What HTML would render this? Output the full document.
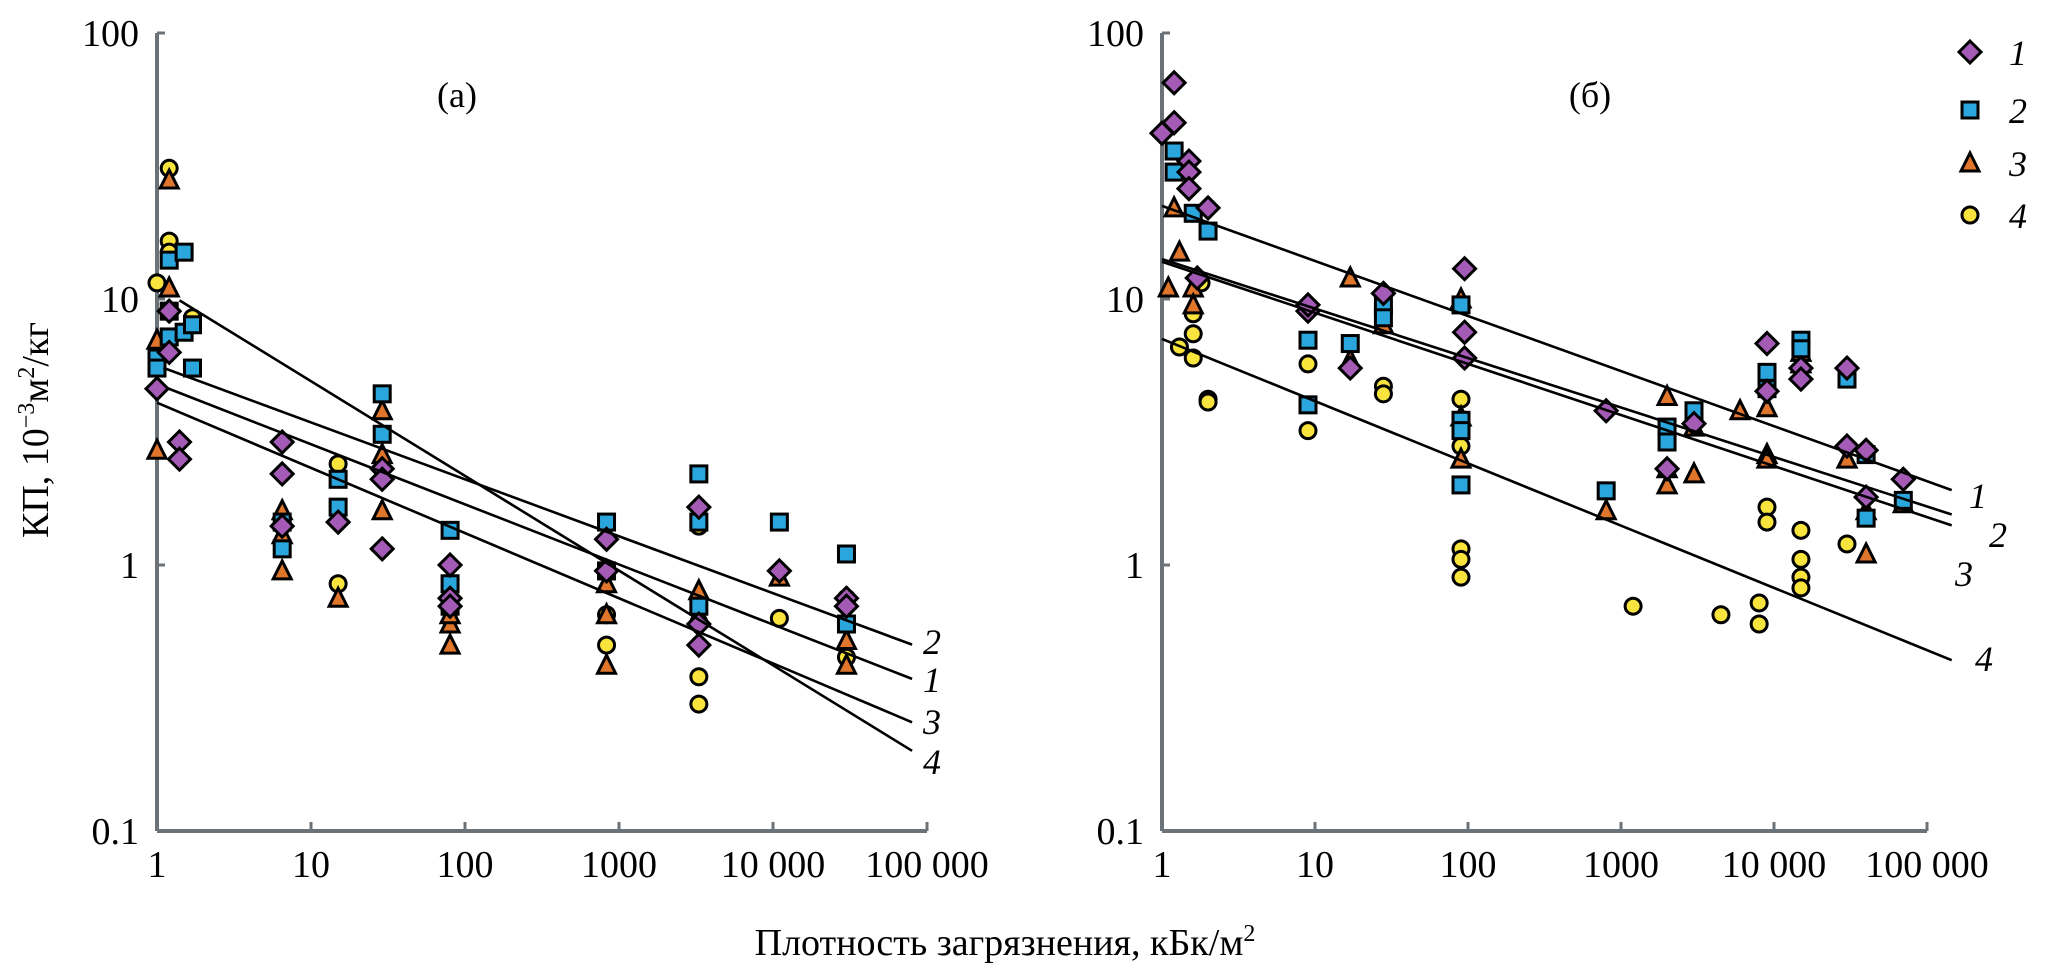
<!DOCTYPE html>
<html><head><meta charset="utf-8">
<style>
html,body{margin:0;padding:0;background:#fff;}
svg{display:block;font-family:"Liberation Serif","Times New Roman",serif;}
svg text{font-family:"Liberation Serif","Times New Roman",serif;fill:#000;}
</style></head>
<body>
<svg id="chart" width="2046" height="968" viewBox="0 0 2046 968" xmlns="http://www.w3.org/2000/svg" font-family="Liberation Serif, serif">
<text transform="translate(48,430) rotate(-90)" text-anchor="middle" font-size="38">КП,  10<tspan font-size="24" dy="-14">−3</tspan><tspan dy="14">м</tspan><tspan font-size="24" dy="-14">2</tspan><tspan dy="14">/кг</tspan></text>
<text x="1005" y="955" text-anchor="middle" font-size="38">Плотность загрязнения, кБк/м<tspan font-size="24" dy="-14">2</tspan></text>
<text x="457" y="107" text-anchor="middle" font-size="36">(а)</text>
<text x="1590" y="107" text-anchor="middle" font-size="36">(б)</text>
</svg>
<script>
// ---- data ----
const yTickValues = [100, 10, 1, 0.1];
const yTickLabels = ["100", "10", "1", "0.1"];
const xTickValues = [1, 10, 100, 1000, 10000, 100000];
const xTickLabels = ["1", "10", "100", "1000", "10 000", "100 000"];
const seriesNames = ["1", "2", "3", "4"];

const aS1x = [1, 1.2, 1.2, 1.4, 1.4, 6.5, 6.5, 6.5, 15, 29, 29, 29, 80, 80, 80, 830, 830, 3300, 3300, 3300, 11000, 30000, 30000];
const aS1y = [4.6, 9, 6.3, 2.9, 2.5, 2.9, 2.2, 1.4, 1.45, 2.3, 2.1, 1.15, 1.0, 0.75, 0.7, 1.25, 0.95, 1.65, 0.5, 0.6, 0.95, 0.75, 0.7];
const aS2x = [1, 1, 1.2, 1.2, 1.2, 1.5, 1.5, 1.7, 1.7, 6.5, 6.5, 15, 15, 29, 29, 80, 80, 80, 830, 830, 3300, 3300, 3300, 11000, 30000, 30000];
const aS2y = [6, 5.5, 14, 9, 7.2, 15, 7.5, 8, 5.5, 1.15, 1.45, 1.65, 2.1, 4.4, 3.1, 1.35, 0.85, 0.7, 1.45, 0.95, 2.2, 1.45, 0.7, 1.45, 1.1, 0.6];
const aS3x = [1, 1, 1.2, 1.2, 6.5, 6.5, 6.5, 15, 29, 29, 29, 80, 80, 80, 830, 830, 830, 3300, 3300, 11000, 30000, 30000];
const aS3y = [2.7, 7, 28, 11, 1.6, 1.3, 0.95, 0.75, 3.8, 2.6, 1.6, 0.5, 0.6, 0.65, 0.85, 0.65, 0.42, 0.8, 0.65, 0.9, 0.52, 0.42];
const aS4x = [1, 1.2, 1.2, 1.2, 1.7, 15, 15, 830, 830, 3300, 3300, 3300, 11000, 30000, 30000];
const aS4y = [11.5, 31, 16.5, 15, 8.5, 2.4, 0.85, 0.65, 0.5, 1.4, 0.38, 0.3, 0.63, 0.75, 0.45];

const bS1x = [1, 1.2, 1.2, 1.5, 1.5, 1.5, 2, 1.7, 9, 9, 17, 28, 95, 95, 95, 800, 2000, 3000, 9000, 9000, 15000, 15000, 30000, 30000, 40000, 40000, 70000];
const bS1y = [42, 65, 46, 33, 30, 26, 22, 12, 9, 9.5, 5.5, 10.5, 13, 7.5, 6, 3.8, 2.3, 3.4, 6.8, 4.5, 5.5, 5, 5.5, 2.8, 2.7, 1.8, 2.1];
const bS2x = [1.2, 1.2, 1.6, 2, 9, 9, 17, 28, 28, 90, 90, 90, 90, 800, 2000, 2000, 3000, 9000, 9000, 15000, 15000, 30000, 40000, 40000, 70000];
const bS2y = [36, 30, 21, 18, 7, 4, 6.8, 9.5, 8.5, 9.5, 3.5, 3.2, 2, 1.9, 3.3, 2.9, 3.8, 5.3, 4.6, 7, 6.5, 5, 1.5, 2.6, 1.75];
const bS3x = [1.1, 1.2, 1.3, 1.6, 1.6, 17, 17, 28, 90, 90, 90, 800, 2000, 2000, 2000, 3000, 3000, 6000, 9000, 9000, 9000, 15000, 15000, 30000, 40000, 40000, 70000];
const bS3y = [11, 22, 15, 11, 9.5, 12, 5.9, 8, 10, 3.6, 2.5, 1.6, 4.3, 2.3, 2, 3.3, 2.2, 3.8, 3.9, 2.6, 2.5, 6.3, 5.7, 2.5, 1.1, 1.6, 1.7];
const bS4x = [1.3, 1.6, 1.6, 1.6, 1.8, 2, 2, 9, 9, 28, 28, 90, 90, 90, 90, 90, 90, 1200, 4500, 8000, 8000, 9000, 9000, 15000, 15000, 15000, 15000, 30000];
const bS4y = [6.6, 8.8, 7.4, 6, 11.5, 4.2, 4.1, 5.7, 3.2, 4.7, 4.4, 4.2, 3.2, 2.8, 1.15, 1.05, 0.9, 0.7, 0.65, 0.72, 0.6, 1.65, 1.45, 1.35, 1.05, 0.9, 0.82, 1.2];

// regression lines: log10(y) = a + b*log10(x), from x0 to x1
const aLineA = [0.68, 0.75, 0.61, 1.047];
const aLineB = [-0.226, -0.214, -0.245, -0.356];
const aLineX0 = [1.15, 1.1, 1.0, 1.4];
const aLineX1 = [80000, 80000, 80000, 80000];
const bLineA = [1.35, 1.15, 1.14, 0.85];
const bLineB = [-0.207, -0.186, -0.192, -0.234];
const bLineX0 = [1, 1, 1, 1];
const bLineX1 = [145000, 145000, 145000, 145000];

// ---- rendering ----
const svg = document.getElementById('chart');
const NS = 'http://www.w3.org/2000/svg';
const colors = ['#a45bb5', '#2aa6dd', '#e0762c', '#f8e43c'];
function yScale(v) { return 565 - 266 * Math.log10(v); }
function makeX(x0, dec) { return v => x0 + dec * Math.log10(v); }
function el(tag, attrs) { const e = document.createElementNS(NS, tag); for (const k in attrs) e.setAttribute(k, attrs[k]); svg.appendChild(e); return e; }

function marker(si, cx, cy) {
  let e;
  const st = {fill: colors[si], stroke: '#000', 'stroke-width': 3};
  if (si === 0) { e = el('polygon', Object.assign({points: `${cx},${cy-11} ${cx+11},${cy} ${cx},${cy+11} ${cx-11},${cy}`}, st)); }
  else if (si === 1) { e = el('rect', Object.assign({x: cx-8, y: cy-8, width: 16, height: 16}, st)); }
  else if (si === 2) { e = el('polygon', Object.assign({points: `${cx},${cy-10} ${cx+9},${cy+8} ${cx-9},${cy+8}`}, st)); }
  else { e = el('circle', Object.assign({cx: cx, cy: cy, r: 8}, st)); }
  return e;
}

function drawPanel(p, x0, dec, sx, sy, la, lb, lx0, lx1, lineLabelPos) {
  const X = makeX(x0, dec);
  const ya = el('line', {x1: x0, y1: yScale(100), x2: x0, y2: yScale(0.1), stroke: '#6c7378', 'stroke-width': 4});
  
  
  const xa = el('line', {x1: x0, y1: yScale(0.1), x2: X(100000), y2: yScale(0.1), stroke: '#6c7378', 'stroke-width': 4});
  
  
  yTickValues.forEach((v, i) => {
    const t = el('line', {x1: x0, y1: yScale(v), x2: x0 + 8, y2: yScale(v), stroke: '#6c7378', 'stroke-width': 3});
    
    
    const lb2 = el('text', {x: x0 - 18, y: yScale(v) + 13, 'text-anchor': 'end', 'font-size': 38});
    lb2.textContent = yTickLabels[i];
    
    
  });
  xTickValues.forEach((v, i) => {
    const t = el('line', {x1: X(v), y1: yScale(0.1), x2: X(v), y2: yScale(0.1) - 9, stroke: '#6c7378', 'stroke-width': 3});
    
    
    const lb2 = el('text', {x: X(v), y: 877, 'text-anchor': 'middle', 'font-size': 38});
    lb2.textContent = xTickLabels[i];
    
    
  });
  for (let s = 3; s >= 0; s--) {
    sx[s].forEach((xv, i) => {
      const m = marker(s, X(xv), yScale(sy[s][i]));
      
      
    });
  }
  la.forEach((a, i) => {
    const xs = lx0[i], xe = lx1[i];
    const ln = el('line', {x1: X(xs), y1: yScale(Math.pow(10, a + lb[i] * Math.log10(xs))), x2: X(xe), y2: yScale(Math.pow(10, a + lb[i] * Math.log10(xe))), stroke: '#000', 'stroke-width': 2.6});
    
    
    const t = el('text', {x: lineLabelPos[i][0], y: lineLabelPos[i][1] + 12, 'font-size': 36, 'font-style': 'italic', 'text-anchor': 'middle'});
    t.textContent = seriesNames[i];
    
    
  });
}

drawPanel('a', 157, 154, [aS1x, aS2x, aS3x, aS4x], [aS1y, aS2y, aS3y, aS4y], aLineA, aLineB, aLineX0, aLineX1,
  [[932, 680], [932, 642], [932, 722], [932, 762]]);
drawPanel('b', 1162, 153, [bS1x, bS2x, bS3x, bS4x], [bS1y, bS2y, bS3y, bS4y], bLineA, bLineB, bLineX0, bLineX1,
  [[1978, 496], [1998, 535], [1964, 574], [1984, 659]]);

const legY = [52, 110, 163, 215];
seriesNames.forEach((n, i) => {
  const m = marker(i, 1970, legY[i]);
  
  
  const t = el('text', {x: 2018, y: legY[i] + 13, 'font-size': 36, 'font-style': 'italic', 'text-anchor': 'middle'});
  t.textContent = n;
  
  
});
</script>
</body></html>
